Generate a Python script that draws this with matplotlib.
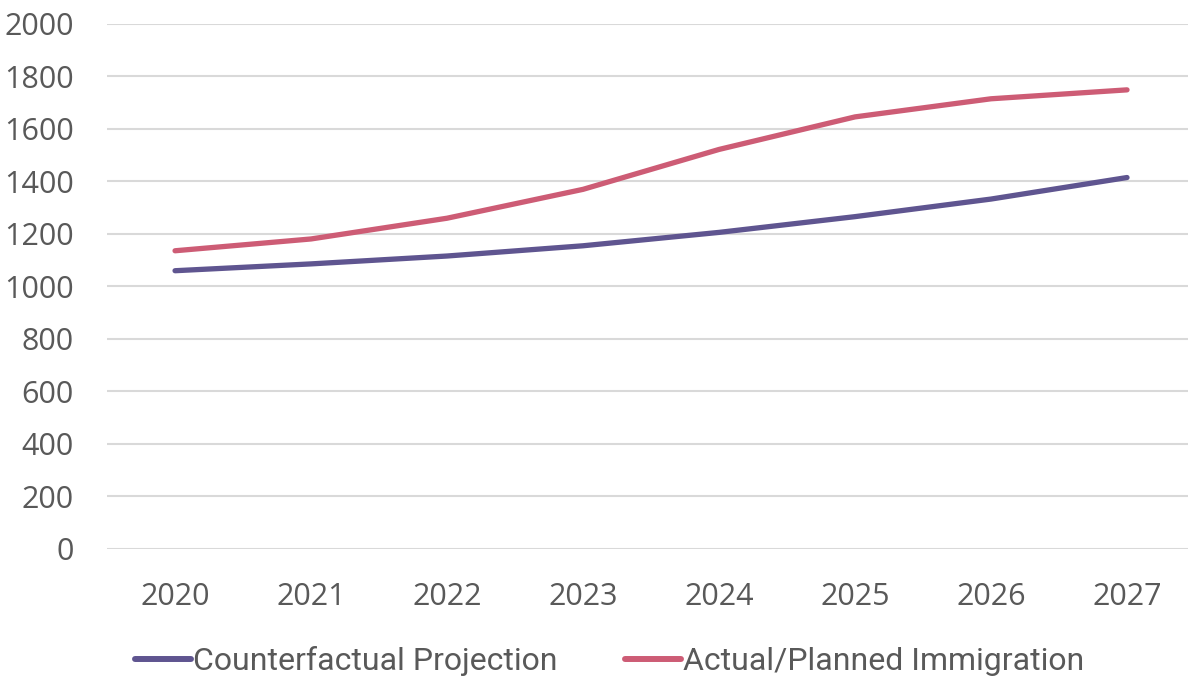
import matplotlib.pyplot as plt

years = ["2020", "2021", "2022", "2023", "2024", "2025", "2026", "2027"]
counterfactual = [1060, 1086, 1116, 1155, 1206, 1266, 1333, 1415]
actual_planned = [1136, 1181, 1260, 1370, 1522, 1646, 1715, 1749]

plt.rcParams['font.family'] = ['Open Sans', 'DejaVu Sans']

fig = plt.figure(figsize=(11.88, 6.79), dpi=100)
ax = fig.add_axes([0.0901, 0.1915, 0.9158, 0.7732])

x = range(len(years))
ax.plot(x, counterfactual, color='#5f5590', linewidth=3.8, solid_capstyle='round',
        label='Counterfactual Projection', zorder=3)
ax.plot(x, actual_planned, color='#cd5c75', linewidth=3.8, solid_capstyle='round',
        label='Actual/Planned Immigration', zorder=3)

ax.set_xlim(-0.5, len(years) - 0.5)
ax.set_ylim(0, 2000)
ax.set_yticks(range(0, 2001, 200))
ax.set_xticks(list(x))
ax.set_xticklabels(years)

ax.grid(axis='y', color='#d9d9d9', linewidth=1.5)
ax.set_axisbelow(True)
for s in ax.spines.values():
    s.set_visible(False)
ax.tick_params(length=0, labelsize=22, colors='#595959')
ax.tick_params(axis='y', pad=24)
ax.tick_params(axis='x', pad=24)

leg = ax.legend(loc='center', bbox_to_anchor=(0.462, -0.213), ncol=2, frameon=False,
                prop={'family': ['Roboto', 'DejaVu Sans'], 'size': 23},
                handlelength=1.75, handletextpad=0.08, columnspacing=2.1)
for t in leg.get_texts():
    t.set_color('#595959')
for h in leg.legend_handles:
    h.set_linewidth(4.3)

plt.savefig('out.png', dpi=100)
